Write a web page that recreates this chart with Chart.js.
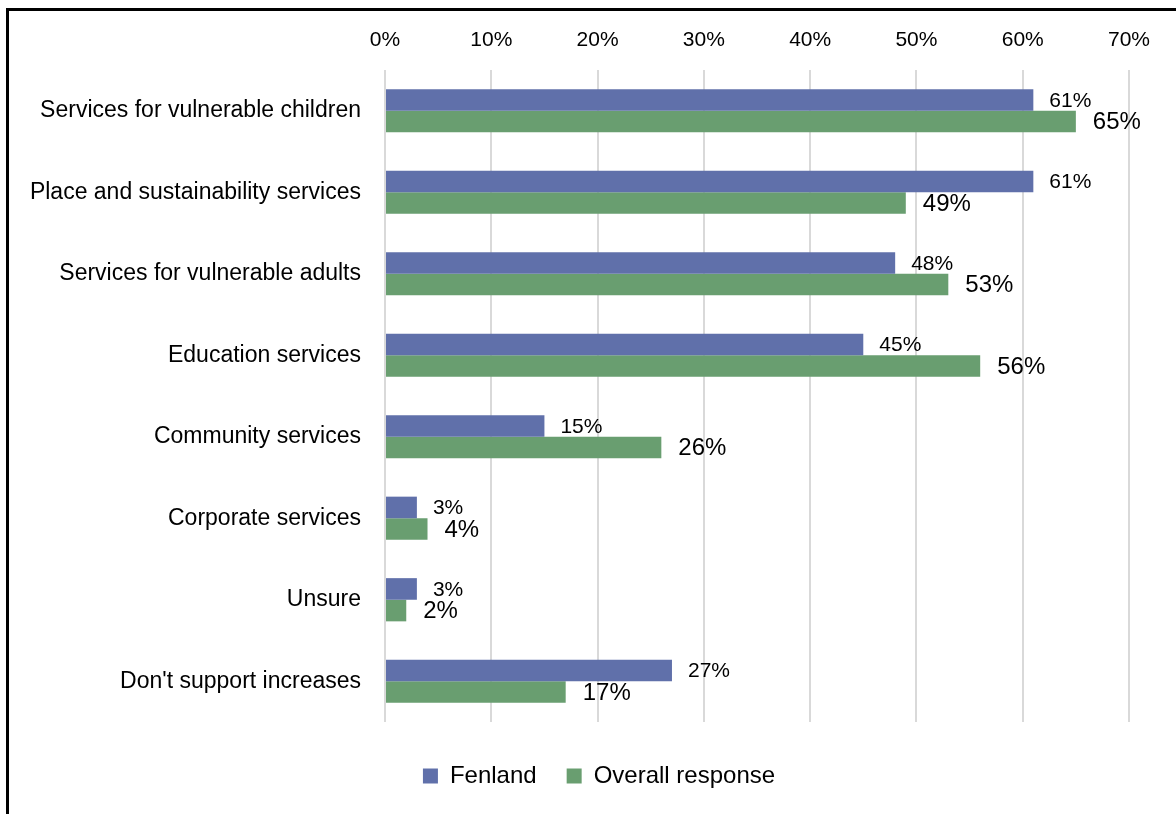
<!DOCTYPE html>
<html>
<head>
<meta charset="utf-8">
<script src="https://cdn.jsdelivr.net/npm/chart.js@4.4.1/dist/chart.umd.min.js"></script>
<style>
  html, body { margin: 0; padding: 0; overflow: hidden; background: #fff; }
  #frame {
    position: absolute; left: 6px; top: 8px;
    width: 1250px; height: 900px;
    border: 3px solid #000; box-sizing: border-box;
  }
  #wrap { position: absolute; left: 0; top: 0; width: 1176px; height: 814px; }
</style>
</head>
<body>
<div id="frame"></div>
<div id="wrap"><canvas id="services_chart" width="1176" height="814"></canvas></div>
<script>
/* Which services should see increases - Fenland vs all responses */

const categories = [
    'Services for vulnerable children',
    'Place and sustainability services',
    'Services for vulnerable adults',
    'Education services',
    'Community services',
    'Corporate services',
    'Unsure',
    "Don't support increases",
];

const fenland = [61, 61, 48, 45, 15, 3, 3, 27];
const overall = [65, 49, 53, 56, 26, 4, 2, 17];

const tick_values = [0, 10, 20, 30, 40, 50, 60, 70];

const FONT = "'Liberation Sans', Arial, sans-serif";

// Draws the "xx%" value just past the end of each bar
const valueLabels = {
    id: 'valueLabels',
    afterDatasetsDraw(chart) {
        const ctx = chart.ctx;
        ctx.save();
        ctx.fillStyle = '#000';
        ctx.textBaseline = 'middle';
        ctx.textAlign = 'left';
        chart.data.datasets.forEach((dataset, i) => {
            const meta = chart.getDatasetMeta(i);
            ctx.font = dataset.labelSize + 'px ' + FONT;
            meta.data.forEach((bar, j) => {
                ctx.fillText(dataset.data[j] + '%', bar.x + dataset.labelGap, bar.y + 1);
            });
        });
        ctx.restore();
    }
};

// Legend row sits a little right of the canvas centre
const legendShift = {
    id: 'legendShift',
    afterLayout(chart) {
        chart.legend.left = 69;
    }
};

const services_canvas = document.getElementById('services_chart');

const servicesChart = new Chart(services_canvas, {
    type: 'bar',
    data: {
        labels: categories,
        datasets: [{
            label: 'Fenland',
            data: fenland,
            backgroundColor: '#6070AA',
            labelSize: 21,
            labelGap: 16,
        }, {
            label: 'Overall response',
            data: overall,
            backgroundColor: '#699E70',
            labelSize: 24,
            labelGap: 17,
        }]
    },
    options: {
        indexAxis: 'y',
        responsive: false,
        animation: false,
        categoryPercentage: 0.53,
        barPercentage: 1.0,
        layout: {
            padding: {left: 0, right: 47, top: 29, bottom: 16}
        },
        plugins: {
            tooltip: {enabled: false},
            legend: {
                position: 'bottom',
                // empty title only pushes the legend row down a bit
                title: {display: true, text: '', padding: {top: 6, bottom: 5}, font: {size: 1, lineHeight: 1}},
                labels: {
                    boxWidth: 15,
                    boxHeight: 15,
                    padding: 30,
                    color: '#000',
                    font: {family: FONT, size: 24},
                }
            }
        },
        scales: {
            x: {
                position: 'top',
                min: 0,
                max: 70,
                afterBuildTicks(scale) {
                    scale.ticks = tick_values.map(v => ({value: v}));
                },
                afterFit(scale) {
                    scale.height = 41;
                },
                grid: {color: '#d9d9d9', lineWidth: 2, drawTicks: false},
                border: {display: false},
                ticks: {
                    padding: 17,
                    color: '#000',
                    font: {family: FONT, size: 21},
                    callback: v => v + '%',
                }
            },
            y: {
                afterFit(scale) {
                    scale.width = 385;
                },
                grid: {display: false},
                border: {display: false},
                ticks: {
                    padding: 16,
                    color: '#000',
                    font: {family: FONT, size: 23},
                }
            }
        }
    },
    plugins: [valueLabels, legendShift]
});
</script>
</body>
</html>
